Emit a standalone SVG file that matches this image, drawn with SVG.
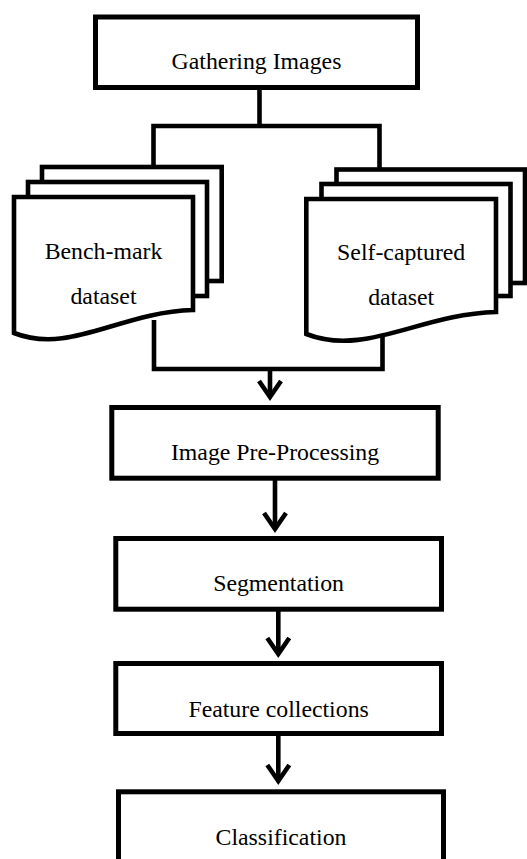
<svg xmlns="http://www.w3.org/2000/svg" width="527" height="859" viewBox="0 0 527 859">
  <style>
    .box { fill: #fff; stroke: #000; stroke-width: 5; stroke-linejoin: miter; }
    .sheet { fill: #fff; stroke: #000; stroke-width: 4.6; stroke-linejoin: miter; }
    .conn { fill: none; stroke: #000; stroke-width: 4.6; stroke-linejoin: miter; stroke-linecap: butt; }
    .lbl { font-family: "Liberation Serif", "Times New Roman", serif; font-size: 23.8px; fill: #000; text-anchor: middle; }
  </style>
  <defs>
    <marker id="arr" markerUnits="userSpaceOnUse" markerWidth="40" markerHeight="40" viewBox="-30 -20 40 40" refX="0" refY="0" orient="auto" overflow="visible">
      <path d="M-16,-11 L0,0 L-16,11" fill="none" stroke="#000" stroke-width="4.6" stroke-linejoin="miter"/>
    </marker>
  </defs>
  <rect width="527" height="859" fill="#fff"/>

  <g id="connectors">
    <path class="conn" d="M259.5,87.5 V126 M153.5,170 V126 H379.5 V172"/>
    <path class="conn" d="M154,320 V369 H382.5 V330"/>
    <line class="conn" x1="270" y1="369" x2="270" y2="397" marker-end="url(#arr)"/>
    <line class="conn" x1="275" y1="480" x2="275" y2="529" marker-end="url(#arr)"/>
    <line class="conn" x1="278.3" y1="611" x2="278.3" y2="654" marker-end="url(#arr)"/>
    <line class="conn" x1="278.3" y1="736" x2="278.3" y2="781" marker-end="url(#arr)"/>
  </g>

  <g id="gathering">
    <rect class="box" x="95.5" y="17" width="322" height="70.5"/>
    <text class="lbl" x="256.5" y="69">Gathering Images</text>
  </g>

  <g id="benchmark">
    <rect class="sheet" x="42" y="167" width="179.7" height="114"/>
    <rect class="sheet" x="28" y="182" width="179" height="114"/>
    <path class="sheet" d="M14,197 H193 V310 C120,312 70,355 14,333 Z"/>
    <text class="lbl" x="103.5" y="259.3">Bench-mark</text>
    <text class="lbl" x="103.5" y="304">dataset</text>
  </g>

  <g id="selfcaptured">
    <rect class="sheet" x="336.5" y="169.5" width="188.5" height="113.5"/>
    <rect class="sheet" x="321.5" y="184" width="189" height="112"/>
    <path class="sheet" d="M306.3,199 H496 V312 C420,314 365,357 306.3,334 Z"/>
    <text class="lbl" x="401.2" y="260">Self-captured</text>
    <text class="lbl" x="401.2" y="305">dataset</text>
  </g>

  <g id="preprocessing">
    <rect class="box" x="111.8" y="407.5" width="326.4" height="70.7"/>
    <text class="lbl" x="275" y="460">Image Pre-Processing</text>
  </g>

  <g id="segmentation">
    <rect class="box" x="115.8" y="538.5" width="325.7" height="70.7"/>
    <text class="lbl" x="278.6" y="591">Segmentation</text>
  </g>

  <g id="features">
    <rect class="box" x="115.8" y="663.5" width="325.7" height="70"/>
    <text class="lbl" x="278.6" y="716.7">Feature collections</text>
  </g>

  <g id="classification">
    <rect class="box" x="118.5" y="791.8" width="325" height="100"/>
    <text class="lbl" x="281" y="845">Classification</text>
  </g>
</svg>
